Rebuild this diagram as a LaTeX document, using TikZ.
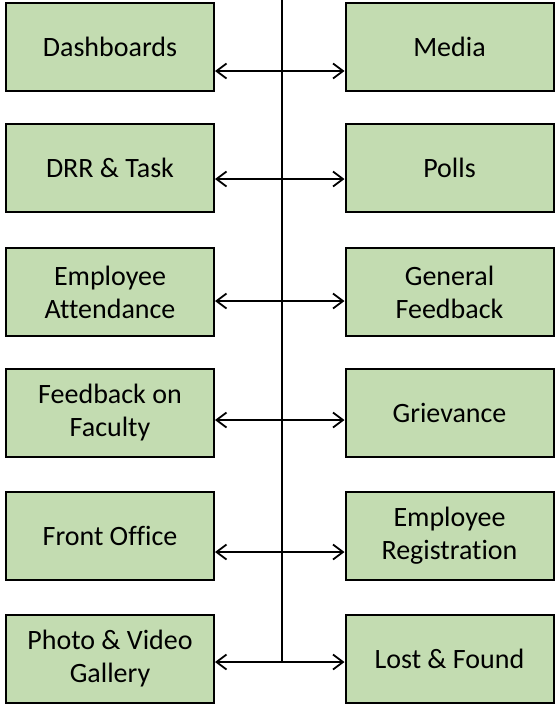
\documentclass[tikz,border=0pt]{standalone}
\usepackage{fontspec}
\setmainfont{Carlito}[Ligatures=NoCommon]
\usepackage{tikz}
\usetikzlibrary{arrows.meta,positioning}
\definecolor{boxgreen}{HTML}{C3DCB1}

\begin{document}
\begin{tikzpicture}[
  x=1pt, y=-1pt,
  font=\fontsize{28}{33}\selectfont,
  box/.style={draw=black, line width=2pt, fill=boxgreen, align=center,
              minimum width=208pt, minimum height=88pt, inner sep=0pt},
  link/.style={{Straight Barb[length=10pt,width=15pt]}-{Straight Barb[length=10pt,width=15pt]},
               line width=1.8pt, draw=black},
  trunk/.style={line width=1.8pt, draw=black}
]
  \useasboundingbox (0,0) rectangle (556,707);

  % left column
  \node[box] (dash)  at (110,47)  {Dashboards};
  \node[box] (drr)   at (110,168) {DRR \& Task};
  \node[box] (att)   at (110,292) {Employee\\Attendance};
  \node[box] (fac)   at (110,413) {Feedback on\\Faculty};
  \node[box] (front) at (110,536) {Front Office};
  \node[box] (photo) at (110,659) {Photo \& Video\\Gallery};

  % right column
  \node[box] (media) at (449.5,47)  {Media};
  \node[box] (polls) at (449.5,168) {Polls};
  \node[box] (gen)   at (449.5,292) {General\\Feedback};
  \node[box] (griev) at (449.5,413) {Grievance};
  \node[box] (reg)   at (449.5,536) {Employee\\Registration};
  \node[box] (lost)  at (449.5,659) {Lost \& Found};

  % trunk
  \coordinate (top) at (282,0);
  \coordinate (bot) at (282,662);
  \draw[trunk] (top) -- (bot);

  \coordinate (a1) at (282,71);
  \coordinate (a2) at (282,179);
  \coordinate (a3) at (282,301);
  \coordinate (a4) at (282,420);
  \coordinate (a5) at (282,552);
  \coordinate (a6) at (282,662);

  \draw[link] (dash.east |- a1) -- (media.west |- a1);
  \draw[link] (drr.east |- a2) -- (polls.west |- a2);
  \draw[link] (att.east |- a3) -- (gen.west |- a3);
  \draw[link] (fac.east |- a4) -- (griev.west |- a4);
  \draw[link] (front.east |- a5) -- (reg.west |- a5);
  \draw[link] (photo.east |- a6) -- (lost.west |- a6);
\end{tikzpicture}
\end{document}
